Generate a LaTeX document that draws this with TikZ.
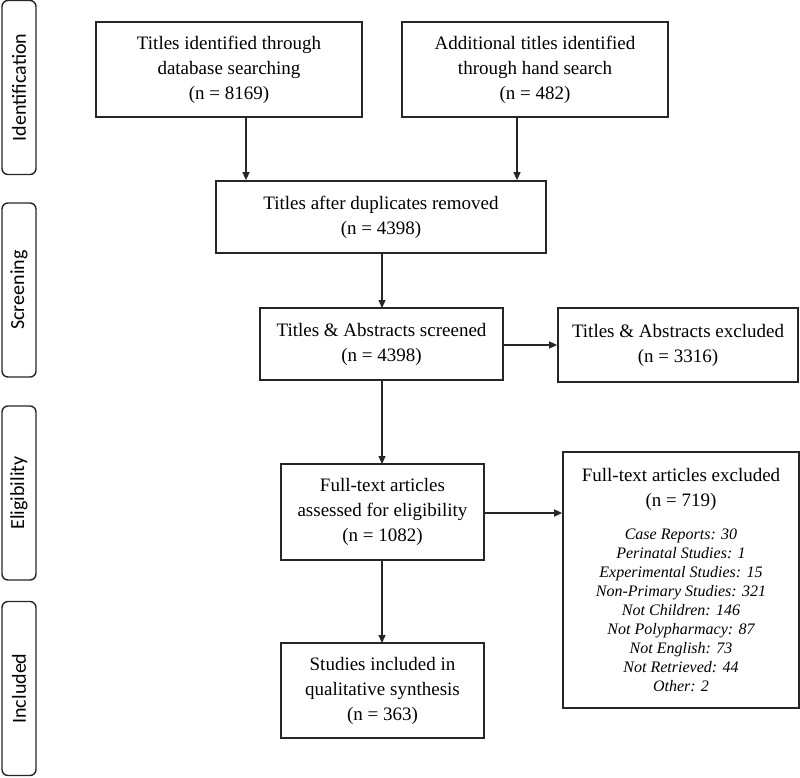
\documentclass[tikz,border=0pt]{standalone}
\usepackage{fontspec}
\setmainfont{Liberation Serif}
\newfontfamily\sidefont{Carlito}
\usetikzlibrary{arrows.meta}
\tikzset{
  box/.style={draw=black!85, line width=1.7pt, rectangle, align=center,
    inner sep=0pt, font=\fontsize{19}{25}\selectfont},
  side/.style={draw=black!85, line width=1.4pt, rounded corners=6pt, rectangle,
    inner sep=0pt, minimum width=34pt, minimum height=174pt,
    font=\sidefont\fontsize{20}{22}\selectfont},
  conn/.style={line width=1.2pt, draw=black!85, -{Triangle[length=8pt,width=7pt]}},
  listtxt/.style={align=center, inner sep=0pt, font=\fontsize{16}{19}\selectfont\itshape},
  headtxt/.style={align=center, inner sep=0pt, font=\fontsize{19}{25}\selectfont}
}
\begin{document}
\begin{tikzpicture}[x=1pt,y=-1pt]
\useasboundingbox (0,0) rectangle (800,777);
% side labels
\node[side] (sid) at (19,87.5) {\rotatebox{90}{Identification}};
\node[side] (sscr) at (19,290) {\rotatebox{90}{Screening}};
\node[side] (selig) at (19,493) {\rotatebox{90}{Eligibility}};
\node[side] (sinc) at (19,688.5) {\rotatebox{90}{Included}};
% boxes
\node[box, minimum width=266pt, minimum height=95pt] (b1) at (229,69.5)
  {Titles identified through\\database searching\\(n = 8169)};
\node[box, minimum width=266pt, minimum height=95pt] (b2) at (535,69.5)
  {Additional titles identified\\through hand search\\(n = 482)};
\node[box, minimum width=330pt, minimum height=72pt] (b3) at (381,217)
  {Titles after duplicates removed\\(n = 4398)};
\node[box, minimum width=243pt, minimum height=72pt] (b4) at (381.5,344)
  {Titles \& Abstracts screened\\(n = 4398)};
\node[box, minimum width=240pt, minimum height=74pt] (b5) at (678,345)
  {Titles \& Abstracts excluded\\(n = 3316)};
\node[box, minimum width=203pt, minimum height=96pt] (b6) at (382.5,512)
  {Full-text articles\\assessed for eligibility\\(n = 1082)};
\node[box, minimum width=236pt, minimum height=256pt] (b7) at (681,580) {};
\node[headtxt] (b7h) at (681,489) {Full-text articles excluded\\(n = 719)};
\node[listtxt, anchor=north] (b7l) at (681,529)
  {Case Reports: 30\\Perinatal Studies: 1\\Experimental Studies: 15\\Non-Primary Studies: 321\\Not Children: 146\\Not Polypharmacy: 87\\Not English: 73\\Not Retrieved: 44\\Other: 2};
\node[box, minimum width=203pt, minimum height=95pt] (b8) at (382.5,690.5)
  {Studies included in\\qualitative synthesis\\(n = 363)};
% connectors
\coordinate (a1) at (246,117);
\coordinate (a2) at (517,117);
\draw[conn] (a1) -- (a1 |- b3.north);
\draw[conn] (a2) -- (a2 |- b3.north);
\draw[conn] (382,253) -- (382,308);
\draw[conn] (b4.east |- 0,345) -- (b5.west |- 0,345);
\draw[conn] (382,380) -- (382,464);
\draw[conn] (b6.east |- 0,513) -- (b7.west |- 0,513);
\draw[conn] (382,560) -- (382,643);
\end{tikzpicture}
\end{document}
